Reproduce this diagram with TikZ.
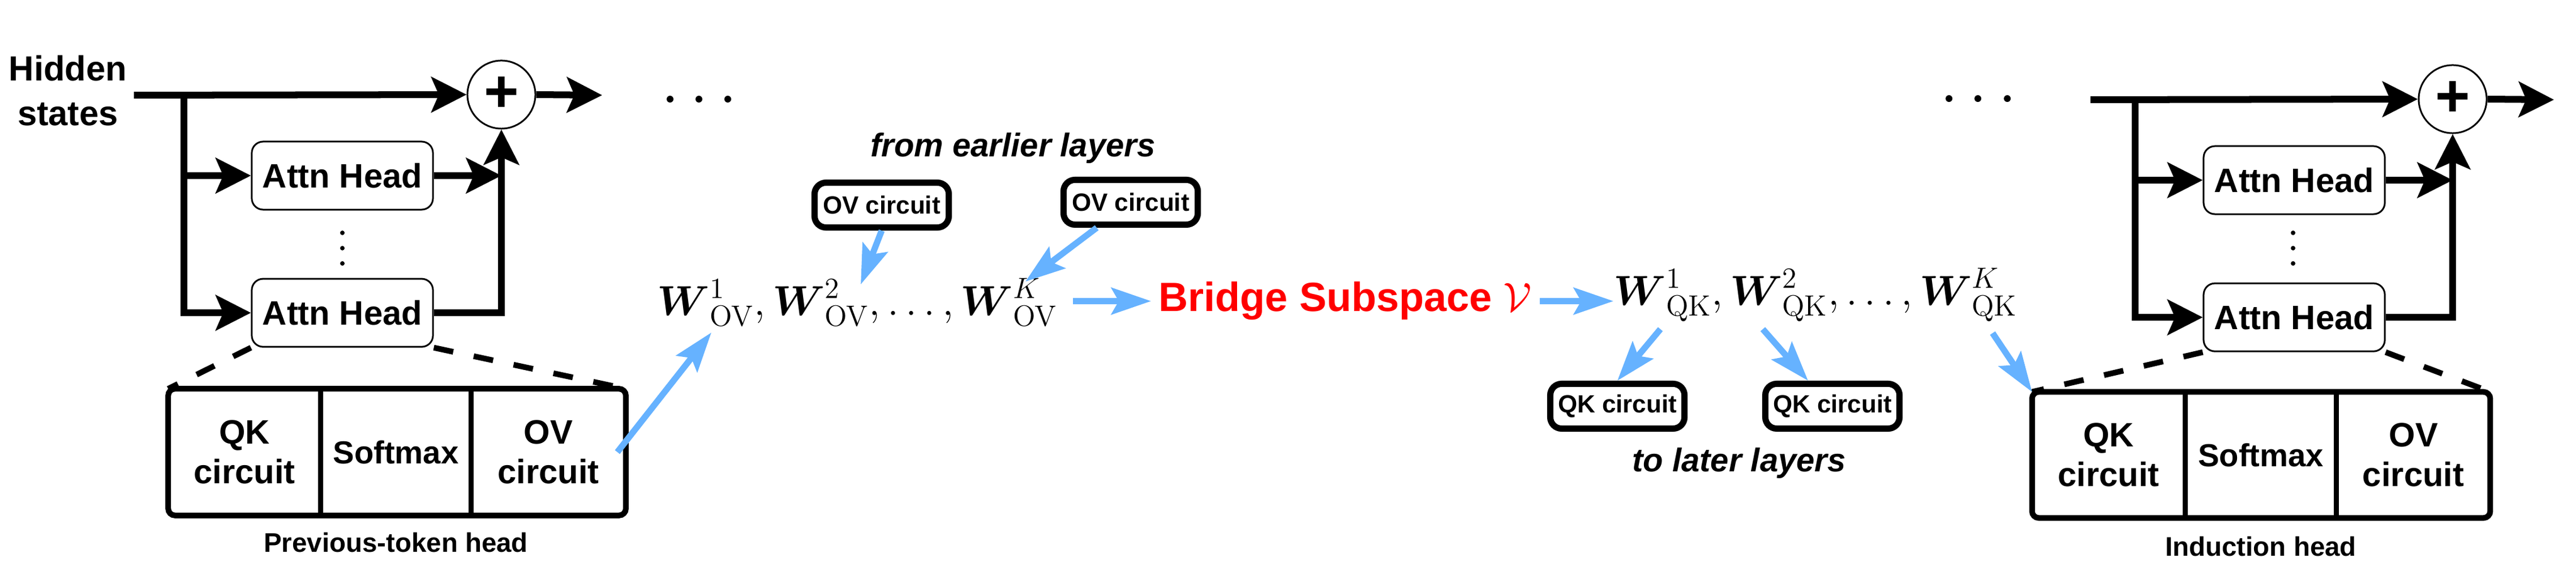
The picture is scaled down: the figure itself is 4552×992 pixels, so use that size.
\RequirePackage{fix-cm}
\documentclass[tikz,border=0pt]{standalone}
\usepackage{amsmath}
\usepackage{amssymb}
\usepackage[no-math]{fontspec}
\setmainfont{Liberation Sans}
\usepackage{tikz}
\usetikzlibrary{arrows.meta, positioning, shapes}

\definecolor{arrowblue}{RGB}{102,178,255}
\definecolor{bridgered}{RGB}{255,0,0}

\begin{document}
\begin{tikzpicture}[x=0.01cm, y=-0.01cm,
    head/.style={rectangle, draw, rounded corners=0.2cm, line width=0.03cm, minimum width=3.2cm, minimum height=1.2cm, inner sep=0pt, font=\fontsize{17}{20}\selectfont\bfseries},
    sum/.style={circle, draw, line width=0.03cm, minimum size=1.2cm, inner sep=0pt, font=\fontsize{30}{30}\selectfont\bfseries},
    cell/.style={rectangle, inner sep=0pt, minimum height=2.22cm, align=center, font=\fontsize{17}{20}\selectfont\bfseries},
    frame/.style={line width=0.1cm, rounded corners=0.12cm},
    divider/.style={line width=0.09cm},
    circuit/.style={rectangle, draw, fill=white, line width=0.11cm, rounded corners=0.2cm, minimum width=2.37cm, minimum height=0.79cm, inner sep=0pt, font=\fontsize{12.5}{15}\selectfont\bfseries},
    flow/.style={line width=0.12cm, -{Stealth[length=0.62cm, width=0.62cm, inset=0.13cm]}},
    blueflow/.style={draw=arrowblue, line width=0.11cm, -{Stealth[length=0.7cm, width=0.47cm, inset=0.13cm]}},
    zoomline/.style={line width=0.1cm, dash pattern=on 0.35cm off 0.37cm},
    caption/.style={font=\fontsize{13.5}{16}\selectfont\bfseries, inner sep=0.1cm},
    note/.style={font=\fontsize{16.5}{20}\selectfont\bfseries\itshape},
    formula/.style={inner ysep=0pt, font=\fontsize{21}{26}\selectfont}]
    \useasboundingbox (0,0) rectangle (4552,992);

    % previous-token head layer
    \node[align=center, font=\fontsize{17.5}{22.4}\selectfont\bfseries] (hid) at (120,160) {Hidden\\states};
    \coordinate (sp1) at (325,168);
    \node[sum] (sum1) at (886,167) {+};
    \coordinate (out1) at (1064,168);
    \node[head] (h1a) at (605,310) {Attn Head};
    \node[head, below=1.19cm of h1a] (h1b) {Attn Head};
    \foreach \y in {411,438,465} \fill (605,\y) circle (4);

    \draw[flow] (hid.east |- sp1) -- (sum1.west);
    \draw[flow] (sp1) |- (h1b.west);
    \draw[flow] (sp1 |- h1a.west) -- (h1a.west);
    \draw[flow] (h1a.east) -- (sum1 |- h1a.east);
    \draw[flow] (h1b.east) -| (sum1.south);
    \draw[flow] (sum1.east) -- (out1);

    \node[cell, minimum width=2.68cm] (qk1) at (432,798) {QK\\circuit};
    \node[cell, minimum width=2.64cm, right=0pt of qk1, font=\fontsize{16}{19}\selectfont\bfseries] (sm1) {Softmax};
    \node[cell, minimum width=2.72cm, right=0pt of sm1] (ov1) {OV\\circuit};
    \draw[frame] (qk1.north west) rectangle (ov1.south east);
    \draw[divider] (qk1.north east) -- (qk1.south east);
    \draw[divider] (sm1.north east) -- (sm1.south east);
    \draw[zoomline] (h1b.south west) -- (qk1.north west);
    \draw[zoomline] (h1b.south east) -- (ov1.north east);
    \node[caption, below=0.2cm of sm1] (cap1) {Previous-token head};

    \foreach \x in {1184,1235,1286} \fill (\x,175) circle (6);

    % OV side
    \node[formula, inner xsep=0.27cm, anchor=base west] (ovf) at (1134,557) {$\boldsymbol{W}^{1}_{\mathrm{OV}}, \boldsymbol{W}^{2}_{\mathrm{OV}}, \ldots, \boldsymbol{W}^{K}_{\mathrm{OV}}$};
    \node[note] (earlier) at (1790,262) {from earlier layers};
    \node[circuit] (ovb1) at (1558,362) {OV circuit};
    \node[circuit] (ovb2) at (1998,357) {OV circuit};
    \coordinate (w1o) at (1257,587);
    \coordinate (w2o) at (1521,502);
    \coordinate (wKo) at (1812,497);
    \draw[blueflow] ([xshift=-0.15cm]ov1.east) -- (w1o);
    \draw[blueflow] (ovb1.south) -- (w2o);
    \draw[blueflow] ([xshift=-0.6cm]ovb2.south) -- (wKo);

    \node[font=\fontsize{20.5}{24}\selectfont\bfseries, text=bridgered, anchor=base west, inner sep=0.13cm] (bridge) at (2034,550) {Bridge Subspace $\mathcal{V}$};
    \draw[blueflow] (bridge.west -| ovf.east) -- (bridge.west);

    % QK side
    \node[formula, inner xsep=0pt, anchor=base west] (qkf) at (2851,539) {$\boldsymbol{W}^{1}_{\mathrm{QK}}, \boldsymbol{W}^{2}_{\mathrm{QK}}, \ldots, \boldsymbol{W}^{K}_{\mathrm{QK}}$};
    \draw[blueflow] (bridge.east) -- (bridge.east -| qkf.west);
    \node[circuit] (qkb1) at (2858,717) {QK circuit};
    \node[circuit] (qkb2) at (3238,717) {QK circuit};
    \node[note] (later) at (3073,817) {to later layers};
    \coordinate (wq1) at (2934,581);
    \coordinate (wq2) at (3115,581);
    \coordinate (wqK) at (3521,588);
    \draw[blueflow] (wq1) -- (qkb1.north);
    \draw[blueflow] (wq2) -- ([xshift=-0.43cm]qkb2.north);

    \foreach \x in {3444,3495,3547} \fill (\x,174) circle (6);

    % induction head layer
    \coordinate (in2) at (3694,176);
    \coordinate (sp2) at (3773,176);
    \node[sum] (sum2) at (4334,175) {+};
    \coordinate (out2) at (4513,176);
    \node[head] (h2a) at (4054,318) {Attn Head};
    \node[head, below=1.19cm of h2a] (h2b) {Attn Head};
    \foreach \y in {411,438,465} \fill (4052,\y) circle (4);

    \draw[flow] (in2) -- (sum2.west);
    \draw[flow] (sp2) |- (h2b.west);
    \draw[flow] (sp2 |- h2a.west) -- (h2a.west);
    \draw[flow] (h2a.east) -- (sum2 |- h2a.east);
    \draw[flow] (h2b.east) -| (sum2.south);
    \draw[flow] (sum2.east) -- (out2);

    \node[cell, minimum width=2.69cm, minimum height=2.21cm] (qk2) at (3726,803) {QK\\circuit};
    \node[cell, minimum width=2.66cm, minimum height=2.21cm, right=0pt of qk2, font=\fontsize{16}{19}\selectfont\bfseries] (sm2) {Softmax};
    \node[cell, minimum width=2.70cm, minimum height=2.21cm, right=0pt of sm2] (ov2) {OV\\circuit};
    \draw[frame] (qk2.north west) rectangle (ov2.south east);
    \draw[divider] (qk2.north east) -- (qk2.south east);
    \draw[divider] (sm2.north east) -- (sm2.south east);
    \draw[zoomline] (h2b.south west) -- (qk2.north west);
    \draw[zoomline] (h2b.south east) -- (ov2.north east);
    \node[caption, below=0.22cm of sm2] (cap2) {Induction head};

    \draw[blueflow] (wqK) -- (qk2.north west);
\end{tikzpicture}
\end{document}
